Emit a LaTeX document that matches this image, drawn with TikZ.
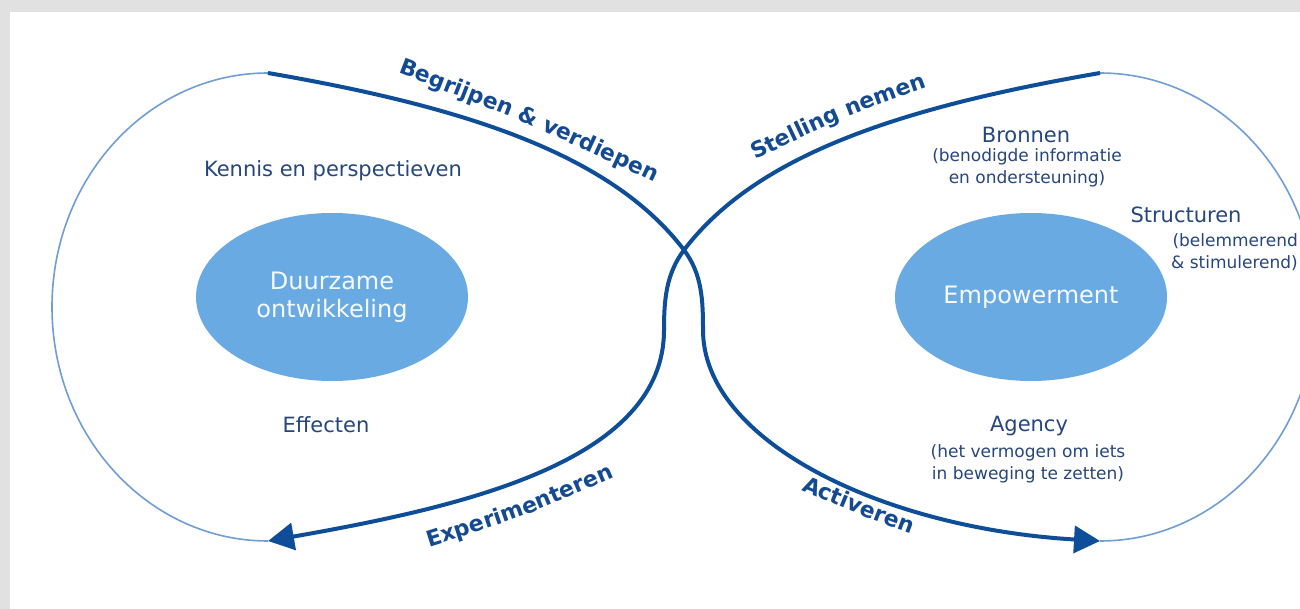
\documentclass[tikz,border=0pt]{standalone}
\usepackage{fontspec}
\setmainfont{DejaVu Sans}
\usetikzlibrary{arrows.meta,shapes.geometric,decorations.text}

\definecolor{grijs}{RGB}{225,225,225}
\definecolor{lijnblauw}{RGB}{14,78,152}
\definecolor{dunblauw}{RGB}{112,158,212}
\definecolor{vulblauw}{RGB}{106,170,226}
\definecolor{tekstblauw}{RGB}{38,70,124}
\definecolor{labelblauw}{RGB}{20,74,146}

\newcommand\lblfont{\fontsize{22}{26}\selectfont\bfseries}

\tikzset{
	dik/.style={draw=lijnblauw, line width=4pt},
	dun/.style={draw=dunblauw, line width=1.6pt},
	pijl/.style={-{Triangle[length=26pt, width=27pt]}},
	kern/.style={ellipse, fill=vulblauw, minimum width=272pt, minimum height=168pt, inner sep=0pt,
		text=white!94!vulblauw, align=center, font=\fontsize{24}{28}\selectfont},
	kop/.style={text=tekstblauw, inner sep=0pt, anchor=base, font=\fontsize{21}{25}\selectfont},
	uitleg/.style={text=tekstblauw, inner sep=0pt, anchor=base, align=center, font=\fontsize{17}{22}\selectfont},
	boogtekst/.style={decorate, decoration={text along path, text color=labelblauw, text={|\lblfont|#1}}}
}

\begin{document}
\begin{tikzpicture}[x=1pt, y=-1pt]
	
	\fill[grijs] (0,0) rectangle (1300,609);
	\fill[white] (10,12) rectangle (1300,609);
	\useasboundingbox (0,0) rectangle (1300,609);
	
	\coordinate (lt) at (268,73);
	\coordinate (lb) at (268,541);
	\coordinate (rt) at (1100,73);
	\coordinate (rb) at (1100,541);
	\coordinate (kruis) at (684,250);
	\coordinate (v1) at (703,330);
	\coordinate (v2) at (664,330);
	
	\begin{scope}
		\clip (10,12) rectangle (1300,609);
		
		% dunne bogen
		\draw[dun] (lt) arc[start angle=90, end angle=270, x radius=216pt, y radius=234pt];
		\draw[dun] (rt) arc[start angle=90, end angle=-90, x radius=216pt, y radius=234pt];
		
		% de twee dikke lijnen
		\draw[dik, pijl] (lt) .. controls (465,107) and (611,154) .. (kruis)
			.. controls (702,274) and (703,300) .. (v1)
			.. controls (703,440) and (880,528) .. (rb);
		\draw[dik, pijl] (rt) .. controls (903,107) and (757,154) .. (kruis)
			.. controls (666,274) and (664,300) .. (v2)
			.. controls (664,460) and (468,506) .. (lb);
	\end{scope}
	
	\path[boogtekst={Begrijpen {\&} verdiepen}] plot[smooth] coordinates {(398,73) (525,123) (658,184)} -- (720,215);
	\path[boogtekst={Stelling nemen}] plot[smooth] coordinates {(755,160) (840,120) (925,88)} -- (990,66);
	\path[boogtekst={Experimenteren}] plot[smooth] coordinates {(429,547) (520,517) (612,478)} -- (680,446);
	\path[boogtekst={Activeren}] plot[smooth] coordinates {(801,490) (856,513) (911,534)} -- (980,556);
	
	\node[kern] (duurzaam) at (332,297) {Duurzame\\ontwikkeling};
	\node[kern] (empower) at (1031,297) {Empowerment};
	
	\node[kop] (kennis) at (333,177) {Kennis en perspectieven};
	\node[kop] (effecten) at (326,432) {Effecten};
	
	\node[kop] (bronnen) at (1026,143) {Bronnen};
	\node[uitleg] (bronnenuitleg) at (1027,184) {(benodigde informatie\\en ondersteuning)};
	
	\node[kop] (structuren) at (1186,223) {Structuren};
	\node[uitleg, align=right, anchor=base east] (structuitleg) at (1298,269) {(belemmerend\\\& stimulerend)};
	
	\node[kop] (agency) at (1029,431) {Agency};
	\node[uitleg] (agencyuitleg) at (1028,479) {(het vermogen om iets\\in beweging te zetten)};
	
\end{tikzpicture}
\end{document}
